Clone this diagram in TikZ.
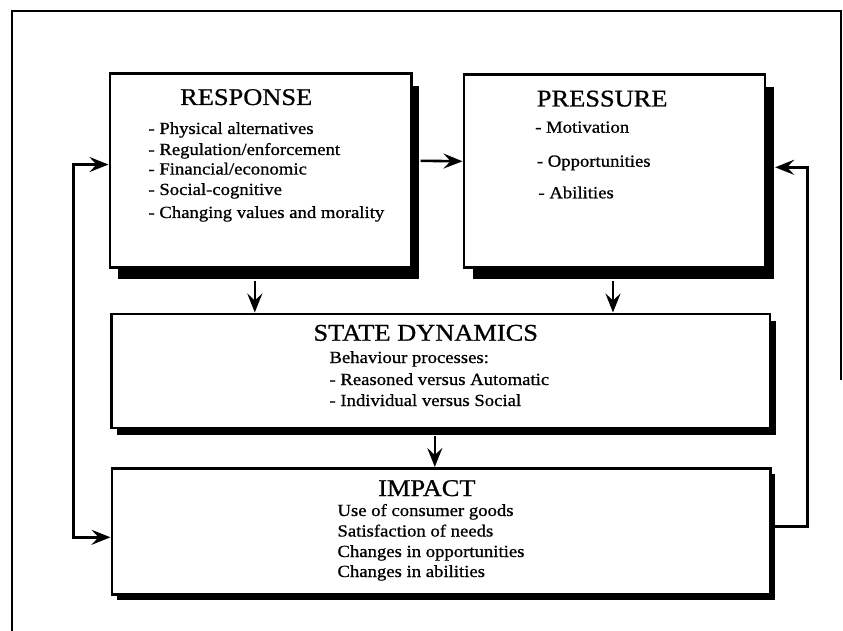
\documentclass[tikz,border=0pt]{standalone}
\usepackage{fontspec}
\setmainfont{Liberation Serif}[FakeStretch=1.1, FakeBold=0.8]
\usetikzlibrary{arrows.meta,shadows}
\begin{document}
\begin{tikzpicture}[x=1pt,y=-1pt,
  box/.style={draw, line width=2.6pt, fill=white, anchor=north west, inner sep=0pt},
  shade/.style 2 args={drop shadow={shadow xshift=#1, shadow yshift=#2, fill=black, opacity=1}},
  title/.style={anchor=base west, inner sep=0pt, font=\fontsize{24}{28}\selectfont},
  item/.style={anchor=base west, inner sep=0pt, font=\fontsize{17}{21}\selectfont},
  arr/.style={line width=2.6pt, -{Stealth[length=19pt,width=15pt,inset=7pt]}},
  biarr/.style={line width=2.6pt, {Stealth[length=19pt,width=15pt,inset=7pt]}-{Stealth[length=19pt,width=15pt,inset=7pt]}},
  frame/.style={line width=1.2pt}]
\useasboundingbox (0,0) rectangle (843,631);

% outer frame
\draw[frame] (12,631) -- (12,11) -- (841,11) -- (841,380);

% boxes
\node[box, shade={8pt}{-12pt}, minimum width=301.5pt, minimum height=193.5pt] (resp) at (108.5,72.5) {};
\node[box, shade={9pt}{-12pt}, minimum width=301pt, minimum height=192.5pt] (pres) at (462.5,73.5) {};
\node[box, shade={6pt}{-7pt}, minimum width=658.5pt, minimum height=114pt] (state) at (110,312.5) {};
\node[box, shade={5pt}{-6pt}, minimum width=658.5pt, minimum height=126pt] (impact) at (110.5,467) {};

% RESPONSE
\node[title] (respT) at (180,105) {RESPONSE};
\node[item] (r1) at (148.3,134) {- Physical alternatives};
\node[item] (r2) at (148.3,155) {- Regulation/enforcement};
\node[item] (r3) at (148.3,174.5) {- Financial/economic};
\node[item] (r4) at (148.3,195) {- Social-cognitive};
\node[item] (r5) at (148.3,218) {- Changing values and morality};

% PRESSURE
\node[title] (presT) at (536.7,106.5) {PRESSURE};
\node[item] (p1) at (535,132.7) {- Motivation};
\node[item] (p2) at (536.7,166.7) {- Opportunities};
\node[item] (p3) at (538.3,198.3) {- Abilities};

% STATE DYNAMICS
\node[title] (stateT) at (313.3,340.7) {STATE DYNAMICS};
\node[item] (s1) at (329.3,363) {Behaviour processes:};
\node[item] (s2) at (329.3,385) {- Reasoned versus Automatic};
\node[item] (s3) at (329.3,406) {- Individual versus Social};

% IMPACT
\node[title] (impT) at (378,496) {IMPACT};
\node[item] (i1) at (337.3,516) {Use of consumer goods};
\node[item] (i2) at (337.3,536.5) {Satisfaction of needs};
\node[item] (i3) at (337.3,557) {Changes in opportunities};
\node[item] (i4) at (337.3,577) {Changes in abilities};

% connectors
\draw[arr] ([xshift=8pt,yshift=9.75pt]resp.east) -- ([yshift=9.75pt]pres.west);
\draw[arr] ([xshift=-5.75pt,yshift=-12pt]resp.south) -- ([xshift=-5.75pt]resp.south |- state.north);
\draw[arr] ([xshift=-1.3pt,yshift=-12pt]pres.south) -- ([xshift=-1.3pt]pres.south |- state.north);
\draw[arr] ([xshift=-5.75pt,yshift=-7pt]state.south) -- ([xshift=-5.75pt]state.south |- impact.north);
\draw[biarr] ([yshift=6pt]resp.west) -- ++(-35pt,0) |- ([yshift=-6pt]impact.west);
\draw[arr] ([yshift=5pt]impact.east) -- ++(36pt,0) |- ([xshift=9pt,yshift=3.75pt]pres.east);
\end{tikzpicture}
\end{document}
